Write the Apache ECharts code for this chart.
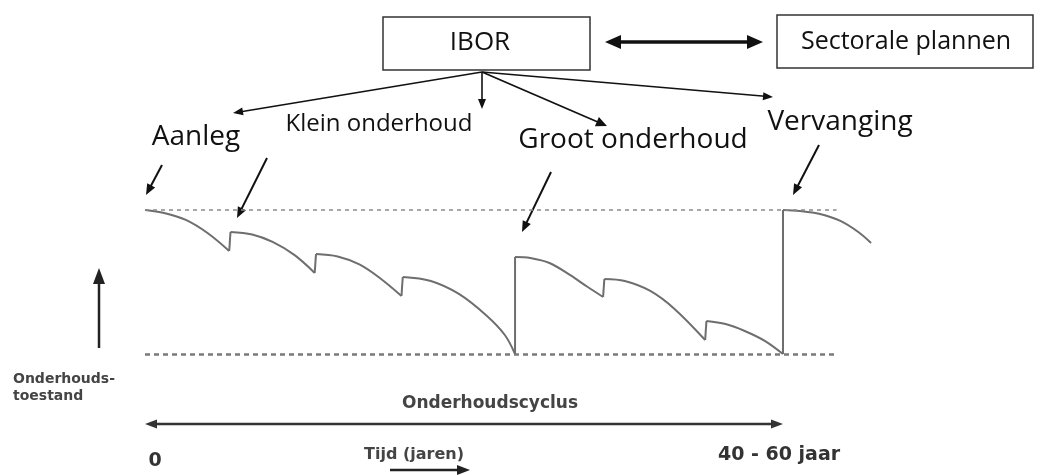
<!DOCTYPE html>
<html>
<head>
<meta charset="utf-8">
<script src="https://cdn.jsdelivr.net/npm/echarts@6/dist/echarts.min.js"></script>
<style>
  html, body { margin: 0; padding: 0; background: #fff; }
  #chart { width: 1040px; height: 475px; }
</style>
</head>
<body>
<div id="chart"></div>
<script>
// Maintenance condition over time (years)
const years = [0, 1.5, 3.2, 4.9, 6.6, 6.7, 8.4, 10.0, 11.7, 13.3, 13.4, 15.1, 16.8, 18.4, 20.1,
  20.2, 22.4, 24.6, 26.8, 28.2, 29.0, 29.0, 30.2, 31.7, 33.3, 34.7, 35.9, 36.0, 37.6, 39.6, 41.5, 43.9,
  44.0, 45.5, 47.0, 48.6, 50.0, 50.0, 51.3, 52.9, 54.5, 55.9, 56.9];
const condition = [100, 97.9, 93.1, 84.0, 71.5, 84.7, 83.0, 77.8, 68.8, 56.3, 69.4, 67.7, 62.2, 52.8, 40.3,
  53.5, 50.7, 41.7, 26.4, 13.2, 0, 67.4, 66.7, 63.2, 54.9, 46.5, 39.6, 52.1, 50.7, 43.8, 31.3, 9.7,
  22.9, 20.8, 16.0, 9.0, 0, 100, 99.3, 97.2, 92.4, 84.7, 77.1];

// reference levels (new / minimum condition) and their extent in years
const levels = [100, 0];
const levelSpan = [0, 54.2];

// text labels
const topBox = 'IBOR';
const sideBox = 'Sectorale plannen';
const phases = ['Aanleg', 'Klein onderhoud', 'Groot onderhoud', 'Vervanging'];
const yTitle = ['Onderhouds-', 'toestand'];
const cycleLabel = 'Onderhoudscyclus';
const timeLabels = ['0', 'Tijd (jaren)', '40 - 60 jaar'];

// layout: where year 0 / 50 and condition 0 / 100 sit on the page
const W = 1040, H = 475;
const X0 = 145, X50 = 783, Y100 = 210, Y0 = 354;
const pxYear = (X50 - X0) / 50;
const pxCond = (Y0 - Y100) / 100;

const chart = echarts.init(document.getElementById('chart'));

const graphics = [];
function arrow(x1, y1, x2, y2, opt) {
  const w = opt.width || 2, len = opt.head || 10, hw = opt.headW || 5, color = opt.color || '#111';
  const dx = x2 - x1, dy = y2 - y1, d = Math.hypot(dx, dy);
  const ux = dx / d, uy = dy / d;
  let sx = x1, sy = y1, ex = x2 - ux * len * 0.8, ey = y2 - uy * len * 0.8;
  if (opt.both) { sx = x1 + ux * len * 0.8; sy = y1 + uy * len * 0.8; }
  graphics.push({ type: 'line', shape: { x1: sx, y1: sy, x2: ex, y2: ey },
    style: { stroke: color, lineWidth: w }, silent: true });
  const head = (px, py, vx, vy) => graphics.push({ type: 'polygon', silent: true,
    shape: { points: [[px, py], [px - vx * len - vy * hw, py - vy * len + vx * hw],
      [px - vx * len + vy * hw, py - vy * len - vx * hw]] },
    style: { fill: color } });
  head(x2, y2, ux, uy);
  if (opt.both) head(x1, y1, -ux, -uy);
}
function text(str, x, y, font, fill, align) {
  graphics.push({ type: 'text', silent: true,
    style: { text: str, x: x, y: y, font: font, fill: fill || '#111',
      textAlign: align || 'center', textVerticalAlign: 'middle' } });
}

const calib = '"Open Sans", sans-serif';
const frut = '"DejaVu Sans", sans-serif';

// boxes
graphics.push({ type: 'rect', shape: { x: 383, y: 17, width: 207, height: 53 },
  style: { fill: '#fff', stroke: '#333', lineWidth: 1.5 }, silent: true });
graphics.push({ type: 'rect', shape: { x: 777, y: 15, width: 256, height: 53 },
  style: { fill: '#fff', stroke: '#333', lineWidth: 1.5 }, silent: true });
text(topBox, 480, 43, '26px ' + calib);
text(sideBox, 906, 42, '25px ' + calib);
arrow(605, 42, 763, 42, { width: 3.5, head: 16, headW: 7, both: true });

// branches from IBOR
arrow(482, 72, 233, 113, { width: 1.6, head: 10, headW: 4 });
arrow(482, 72, 482, 109, { width: 1.6, head: 10, headW: 4 });
arrow(482, 72, 607, 126, { width: 1.8, head: 11, headW: 5 });
arrow(482, 72, 773, 97, { width: 1.6, head: 10, headW: 4 });

// phase labels
text(phases[0], 196, 137, '28px ' + calib);
text(phases[1], 379, 124, '24px ' + calib);
text(phases[2], 633, 140, '28px ' + calib);
text(phases[3], 840, 122, '28px ' + calib);

// pointers
arrow(162, 165, 146, 195, { width: 2, head: 11, headW: 4.5 });
arrow(267, 158, 237, 218, { width: 2, head: 11, headW: 4.5 });
arrow(551, 172, 522, 232, { width: 2, head: 11, headW: 4.5 });
arrow(819, 145, 793, 195, { width: 2, head: 11, headW: 4.5 });

// y title and arrow
arrow(99, 348, 99, 268, { width: 2.5, head: 16, headW: 6, color: '#222' });
text(yTitle[0], 13, 379, 'bold 14px ' + frut, '#444', 'left');
text(yTitle[1], 13, 396, 'bold 14px ' + frut, '#444', 'left');

// cycle arrow and time labels
arrow(145, 424, 783, 424, { width: 2.5, head: 12, headW: 4.5, both: true, color: '#333' });
text(cycleLabel, 490, 404, 'bold 17px ' + frut, '#444');
text(timeLabels[0], 155, 461, 'bold 19px ' + frut, '#333');
text(timeLabels[1], 414, 455, 'bold 16px ' + frut, '#444');
arrow(390, 470, 470, 470, { width: 2.5, head: 13, headW: 5, color: '#222' });
text(timeLabels[2], 779, 455, 'bold 19px ' + frut, '#333');

// split the curve into its smooth decay stretches and the straight jumps between them
const decay = [[]];
const jumps = [];
years.forEach((t, i) => {
  if (i > 0 && condition[i] > condition[i - 1]) {
    jumps.push([[years[i - 1], condition[i - 1]], [t, condition[i]]]);
    decay.push([]);
  }
  decay[decay.length - 1].push([t, condition[i]]);
});
const curveStyle = { color: '#6e6e6e', width: 2 };

const series = decay.map(seg => ({
  type: 'line', data: seg, symbol: 'none', smooth: 0.35,
  lineStyle: curveStyle, silent: true
})).concat(jumps.map(seg => ({
  type: 'line', data: seg, symbol: 'none', lineStyle: curveStyle, silent: true
})));

series[0].markLine = {
  silent: true,
  symbol: ['none', 'none'],
  label: { show: false },
  data: levels.map((lv, i) => [
    { coord: [levelSpan[0], lv], lineStyle: { color: i ? '#7a7a7a' : '#8a8a8a', width: i ? 2.5 : 1.5, type: i ? [5, 4] : [4, 4] } },
    { coord: [levelSpan[1], lv] }
  ])
};

const option = {
  animation: false,
  grid: { left: 0, right: 0, top: 0, bottom: 0 },
  xAxis: { type: 'value', show: false, min: -X0 / pxYear, max: (W - X0) / pxYear },
  yAxis: { type: 'value', show: false, min: -(H - Y0) / pxCond, max: Y0 / pxCond },
  series: series,
  graphic: graphics
};
chart.setOption(option);
</script>
</body>
</html>
